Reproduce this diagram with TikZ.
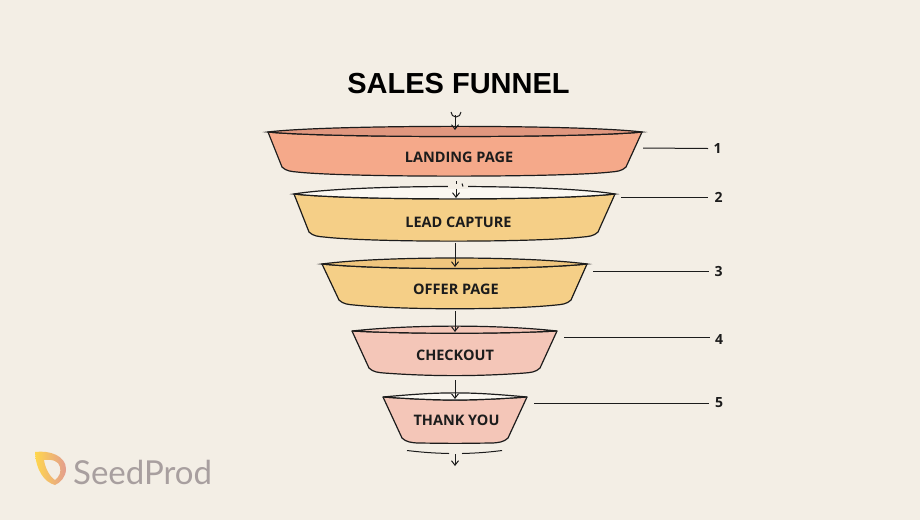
\documentclass[tikz,border=0pt]{standalone}
\usepackage{fontspec}
\setmainfont{Open Sans}
\newfontfamily\titlefont{Liberation Sans}
\newfontfamily\logofont{Lato}
\usetikzlibrary{arrows.meta}
\definecolor{bgc}{HTML}{F3EEE5}
\definecolor{ink}{HTML}{1C1C1C}
\definecolor{coral}{HTML}{F5A98A}
\definecolor{coralrim}{HTML}{E0977F}
\definecolor{sand}{HTML}{F5CF87}
\definecolor{sandrim}{HTML}{F0C67E}
\definecolor{blush}{HTML}{F4C6B8}
\definecolor{rimwhite}{HTML}{FBF8F2}
\definecolor{logogray}{HTML}{A89F9F}
\tikzset{
  body/.style={draw=ink,line width=1.2pt,line join=round},
  rim/.style={draw=ink,line width=1.2pt},
  stagelabel/.style={font=\bfseries\fontsize{14.5}{16}\selectfont,text=ink,inner sep=0pt},
  numlabel/.style={font=\bfseries\fontsize{14}{16}\selectfont,text=ink,inner sep=0pt},
  leader/.style={draw=ink,line width=1pt},
  flow/.style={draw=ink,line width=1pt,-{Straight Barb[length=4.5pt,width=7pt]}},
  plain/.style={draw=ink,line width=1pt},
}
% #1 left x, #2 right x, #3 rim y, #4 rim top y, #5 rim front y,
% #6 bottom-left x, #7 bottom-right x, #8 corner y, #9 bottom y
\newcommand{\funnelshape}[9]{%
  \path[body,fill=\bodycol] (#1,#3) .. controls (#1+60,#5+2) and (#2-60,#5+2) .. (#2,#3)
    -- (#7+3,#8-3) .. controls (#7-1,#8+1) and (#7-6,#8+1.5) .. (#7-12,#8+2)
    .. controls ({#7-60},#9+.5) and ({#6+60},#9+.5) .. (#6+12,#8+2)
    .. controls (#6+6,#8+1.5) and (#6+1,#8+1) .. (#6-3,#8-3) -- cycle;
  \path[rim,fill=\rimcol] (#1,#3) .. controls (#1+60,#4-2.5) and (#2-60,#4-2.5) .. (#2,#3)
    .. controls (#2-60,#5+2) and (#1+60,#5+2) .. (#1,#3) -- cycle;
}
\begin{document}
\begin{tikzpicture}[x=1pt,y=-1pt]
\useasboundingbox (0,0) rectangle (920,520);
\fill[bgc] (0,0) rectangle (920,520);

\node[inner sep=0pt,font=\titlefont\bfseries\fontsize{29}{32}\selectfont,text=black] (title) at (458.5,84) {SALES FUNNEL};

% funnels
\def\bodycol{coral}\def\rimcol{coralrim}
\funnelshape{268}{642}{132}{127}{136}{285}{623}{170}{177}
\def\bodycol{sand}\def\rimcol{rimwhite}
\funnelshape{294}{615}{194}{186.5}{198.5}{312}{595}{235}{242}
\def\bodycol{sand}\def\rimcol{sandrim}
\funnelshape{322}{587}{264}{258.5}{268}{342}{568}{303}{309.5}
\def\bodycol{blush}\def\rimcol{blush}
\funnelshape{352}{557}{331}{327}{332}{372}{537}{371}{376}
\def\bodycol{blush}\def\rimcol{rimwhite}
\funnelshape{383}{527}{397}{394}{399}{405}{505}{441}{443}

% stage labels
\node[stagelabel] (s1) at (459,157.5) {LANDING PAGE};
\node[stagelabel] (s2) at (458.5,222) {LEAD CAPTURE};
\node[stagelabel] (s3) at (456,289.5) {OFFER PAGE};
\node[stagelabel] (s4) at (455,355) {CHECKOUT};
\node[stagelabel] (s5) at (456.5,420) {THANK YOU};

% numbers
\node[numlabel] (n1) at (717.5,148.5) {1};
\node[numlabel] (n2) at (718.5,197.5) {2};
\node[numlabel] (n3) at (718.5,271) {3};
\node[numlabel] (n4) at (719,339) {4};
\node[numlabel] (n5) at (719,403) {5};

% leader start points
\coordinate (l1) at (643,148);
\coordinate (l2) at (621,197);
\coordinate (l3) at (593,271);
\coordinate (l4) at (564,337);
\coordinate (l5) at (534,403);
\draw[leader] (l1) -- (n1.west -| 708,148);
\draw[leader] (l2) -- (708,197);
\draw[leader] (l3) -- (709,271);
\draw[leader] (l4) -- (710,337);
\draw[leader] (l5) -- (709,403);

% flow arrows
\coordinate (a0) at (455,115);   \coordinate (b0) at (455,130);
\coordinate (a1) at (456,181);   \coordinate (b1) at (456,198);
\coordinate (a2) at (455,242.5); \coordinate (b2) at (455,267);
\coordinate (a3) at (455,311);   \coordinate (b3) at (455,332);
\coordinate (a4) at (455,380);   \coordinate (b4) at (455,399);
\coordinate (a5) at (455,454);   \coordinate (b5) at (455,466);

\draw[plain] (451,112) arc[start angle=180,end angle=0,radius=5];
\foreach \i in {0,...,5}{\draw[flow] (a\i) -- (b\i);}
% broken rim and tail marks
\fill[bgc] (448,184) rectangle (468,189);
\draw[plain] (462,183.5) -- (463,186.5);
\draw[plain] (407,450.5) .. controls (420,452) and (430,453) .. (449,453.5);
\draw[plain] (462,453.5) .. controls (480,453) and (490,452) .. (502,450.5);

% logo
\path[left color=orange!45!yellow!70!white,right color=violet!40!orange!55!white,even odd rule]
  (35,452) .. controls (50,450) and (66,456) .. (66,469)
  .. controls (66,477) and (60,483) .. (55,485)
  .. controls (44,482) and (36,470) .. (35,452) -- cycle
  (44,460) .. controls (45,468) and (50,477) .. (55,480)
  .. controls (60,476) and (61,472) .. (60,467)
  .. controls (59,461) and (52,459) .. (44,460) -- cycle;
\node[inner sep=0pt,anchor=west,text=logogray,font=\logofont\fontsize{33}{36}\selectfont] (logo) at (73,472) {SeedProd};
\end{tikzpicture}
\end{document}
